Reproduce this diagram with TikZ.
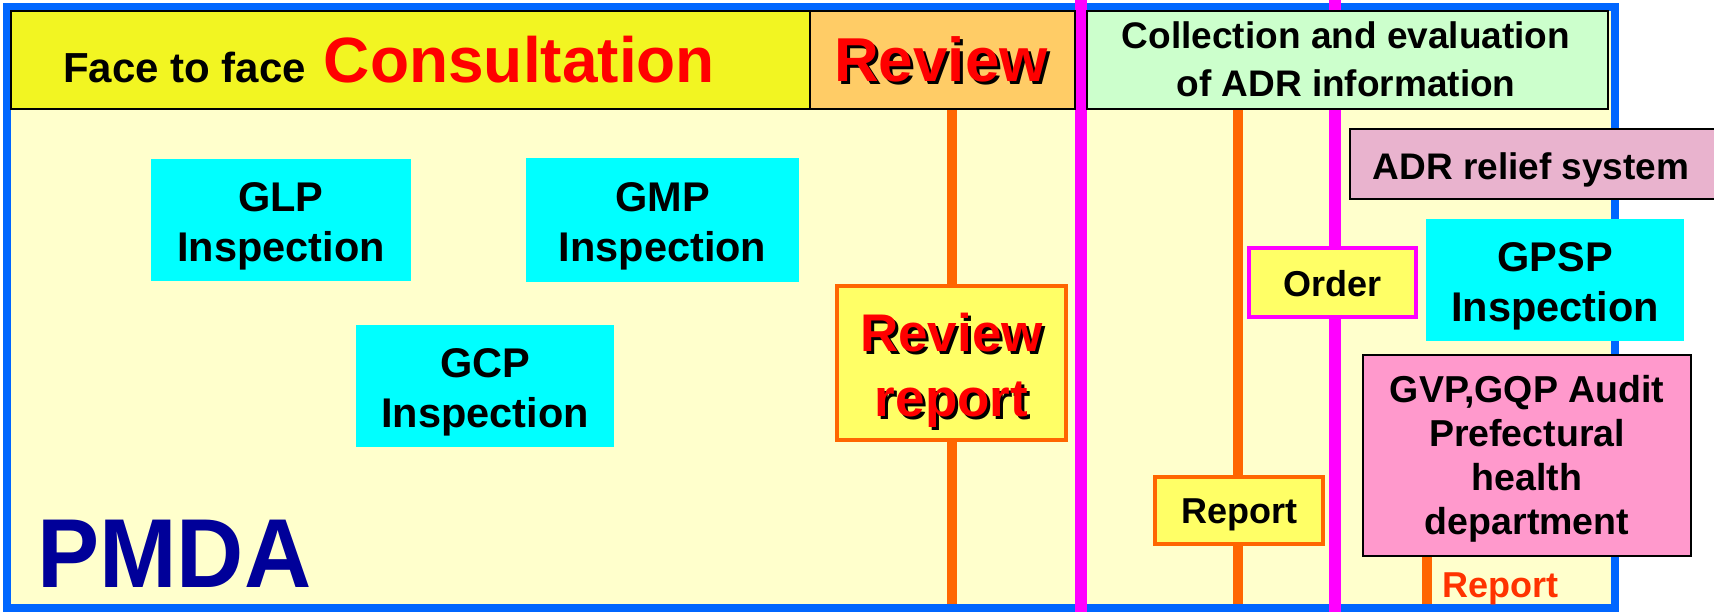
\documentclass[tikz,border=0pt]{standalone}
\usepackage{fontspec}
\usepackage{graphicx}
\setmainfont{Liberation Sans}
\newcommand\fsz[2]{\fontsize{#1}{#2}\selectfont}
\definecolor{bluec}{HTML}{0066FF}
\definecolor{magc}{HTML}{FF00FF}
\definecolor{orc}{HTML}{FF6600}
\definecolor{bodyc}{HTML}{FFFFCC}
\definecolor{hy}{HTML}{F2F522}
\definecolor{ho}{HTML}{FFCC66}
\definecolor{hg}{HTML}{CCFFCC}
\definecolor{cyanc}{HTML}{00FFFF}
\definecolor{boxy}{HTML}{FFFF66}
\definecolor{adrc}{HTML}{E9B3CE}
\definecolor{gvpc}{HTML}{FF99CC}
\definecolor{redc}{HTML}{FF0000}
\definecolor{repc}{HTML}{FF3300}
\definecolor{pmdac}{HTML}{000099}
\begin{document}
\begin{tikzpicture}[x=1pt,y=-1pt,
  hdr/.style={draw=black, line width=2pt, inner sep=0pt},
  cbox/.style={fill=cyanc, inner sep=0pt},
  btxt/.style={font=\bfseries\fsz{41.5}{50}, align=center, inner sep=0pt},
  obox/.style={fill=boxy, draw=orc, line width=4pt, inner sep=0pt},
  mbox/.style={fill=boxy, draw=magc, line width=4pt, inner sep=0pt},
  kbox/.style={draw=black, line width=2.5pt, inner sep=0pt},
  stxt/.style={font=\bfseries\fsz{36}{44}, align=center, inner sep=0pt},
  orline/.style={draw=orc, line width=10pt},
  magline/.style={draw=magc, line width=12pt}]
\useasboundingbox (0,0) rectangle (1714,612);
\fill[white] (0,0) rectangle (1714,612);
\fill[bodyc] (7,7) rectangle (1615,608);
% vertical lines
\coordinate (o1t) at (951.5,109);
\coordinate (o1b) at (951.5,608);
\coordinate (o2t) at (1238,109);
\coordinate (o2b) at (1238,608);
\coordinate (o3t) at (1427,556);
\coordinate (o3b) at (1427,608);
\coordinate (m1t) at (1081,0);
\coordinate (m1b) at (1081,612);
\coordinate (m2t) at (1335,0);
\coordinate (m2b) at (1335,612);
\draw[orline] (o1t) -- (o1b);
\draw[orline] (o2t) -- (o2b);
\draw[orline] (o3t) -- (o3b);
% blue frame
\draw[bluec, line width=8pt] (7,7) rectangle (1615,608);
\draw[magline] (m1t) -- (m1b);
\draw[magline] (m2t) -- (m2b);
% header bands
\node[hdr, fill=hy, minimum width=799pt, minimum height=98pt] (hA) at (410.5,60) {};
\node[hdr, fill=ho, minimum width=265pt, minimum height=98pt] (hB) at (942.5,60) {};
\node[hdr, fill=hg, minimum width=521pt, minimum height=98pt] (hC) at (1347.5,60) {};
% header texts
\node[anchor=base west, inner sep=0pt, font=\bfseries] (tface) at (63,83)
  {\fsz{42}{42}Face to face\hspace{18pt}{\color{redc}\fsz{64}{64}Consultation}};
\node[anchor=base, inner sep=0pt, font=\bfseries\fsz{62}{62}, text=black] (trevs) at (944,85) {Review};
\node[anchor=base, inner sep=0pt, font=\bfseries\fsz{62}{62}, text=redc] (trev) at (941,82) {Review};
\node[font=\bfseries\fsz{37}{48}, align=center, inner sep=0pt] (tcoll) at (1346,59)
  {Collection and evaluation\\of ADR information};
% cyan inspection boxes
\node[cbox, minimum width=260pt, minimum height=122pt] (glp) at (281,220) {};
\node[btxt] (glpt) at ([yshift=-6pt]glp.center) {GLP\\Inspection};
\node[cbox, minimum width=273pt, minimum height=124pt] (gmp) at (662.5,220) {};
\node[btxt] (gmpt) at ([yshift=-6pt]gmp.center) {GMP\\Inspection};
\node[cbox, minimum width=258pt, minimum height=122pt] (gcp) at (485,386) {};
\node[btxt] (gcpt) at ([yshift=-6pt]gcp.center) {GCP\\Inspection};
\node[cbox, minimum width=258pt, minimum height=122pt] (gpsp) at (1555,280) {};
\node[btxt] (gpspt) at ([yshift=-6pt]gpsp.center) {GPSP\\Inspection};
% review report
\node[obox, minimum width=229pt, minimum height=154pt] (rr) at (951.5,363) {};
\node[font=\bfseries\fsz{53}{65}, align=center, inner sep=0pt, text=black] (rrs) at ([xshift=3pt,yshift=-10pt]rr.center) {Review\\report};
\node[font=\bfseries\fsz{53}{65}, align=center, inner sep=0pt, text=redc] (rrt) at ([yshift=-7pt]rr.center) {Review\\report};
% order / report boxes
\node[mbox, minimum width=167pt, minimum height=69pt] (ord) at (1332.5,282.5) {};
\node[stxt] (ordt) at ([yshift=-1pt]ord.center) {Order};
\node[obox, minimum width=168pt, minimum height=67pt] (rep) at (1239,510.5) {};
\node[stxt] (rept) at ([yshift=-4.5pt]rep.center) {Report};
% ADR relief system
\node[kbox, fill=adrc, minimum width=368pt, minimum height=70pt] (adr) at (1534,164) {};
\node[font=\bfseries\fsz{37}{44}, inner sep=0pt] (adrt) at (1531,170) {ADR relief system};
% GVP box
\node[kbox, fill=gvpc, minimum width=328pt, minimum height=201pt] (gvp) at (1527,455.5) {};
\node[font=\bfseries\fsz{37.5}{44}, align=center, inner sep=0pt] (gvpt) at ([yshift=-3.5pt]gvp.center)
  {GVP,GQP Audit\\Prefectural\\health\\department};
% bottom report label
\node[anchor=base, inner sep=0pt, font=\bfseries\fsz{36}{36}, text=repc] (rep2) at (1500,597) {Report};
% PMDA
\node[anchor=base west, inner sep=0pt, font=\bfseries\fsz{98}{98}, text=pmdac] (pmda) at (37,587) {\scalebox{0.95}[1]{PMDA}};
\end{tikzpicture}
\end{document}
